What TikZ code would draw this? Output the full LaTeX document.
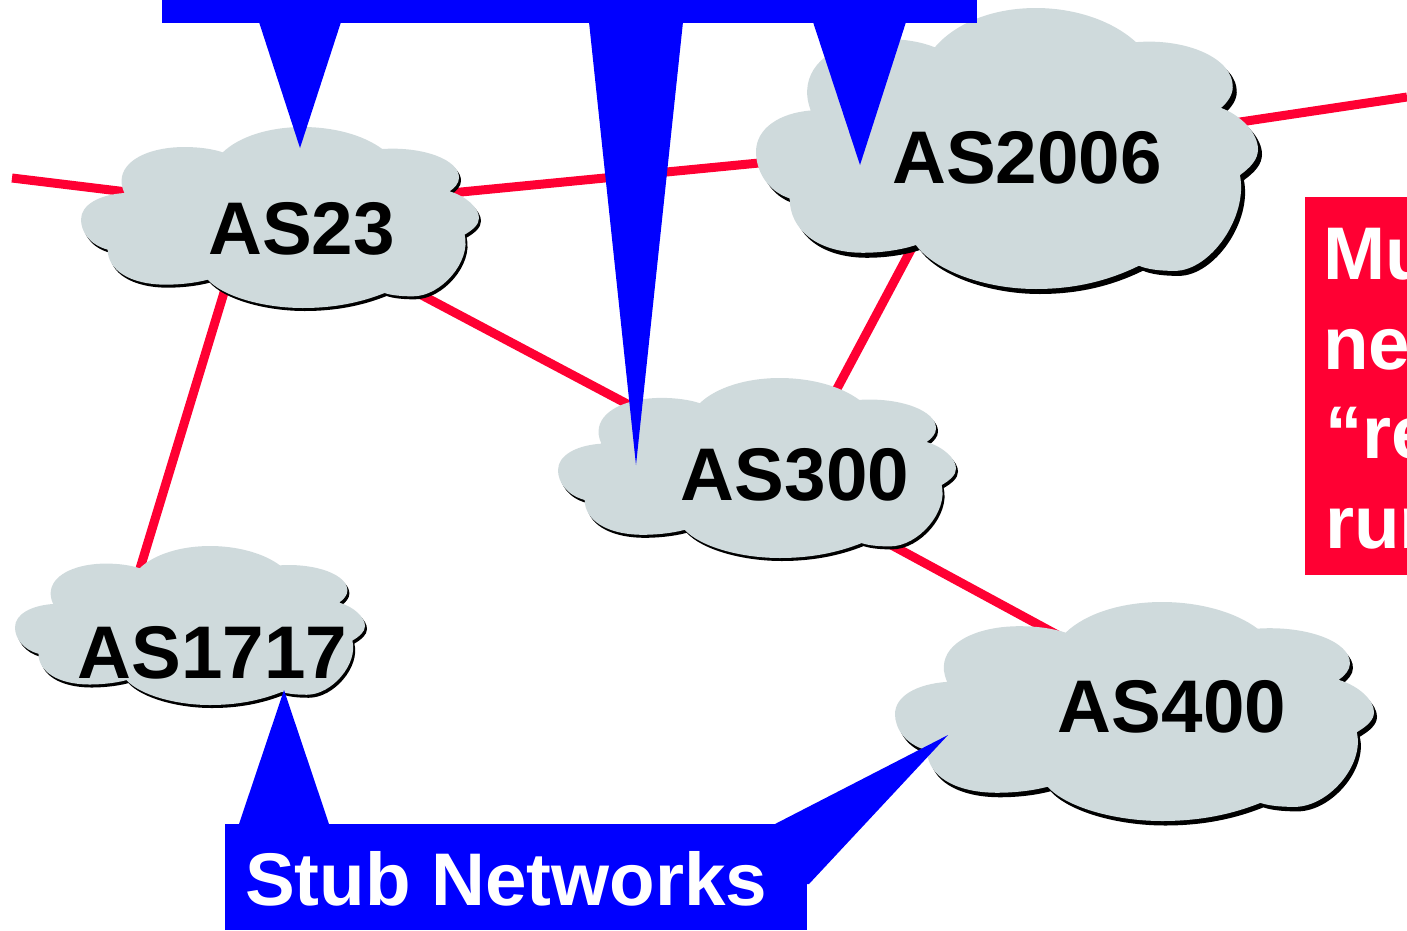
\documentclass[tikz,border=0pt]{standalone}
\usepackage{fontspec}
\setmainfont{Liberation Sans}
\definecolor{linkred}{HTML}{FF0033}
\definecolor{calloutblue}{HTML}{0000FF}
\definecolor{cloudgrey}{HTML}{CFDADC}
\newcommand{\cloudoutline}{(460,98) .. controls (510,50) and (600,22) .. (700,22)
  .. controls (790,22) and (880,45) .. (938,88)
  .. controls (1060,80) and (1170,120) .. (1168,175)
  .. controls (1168,190) and (1155,205) .. (1140,215)
  .. controls (1190,230) and (1228,265) .. (1228,295)
  .. controls (1228,315) and (1210,330) .. (1185,345)
  .. controls (1205,425) and (1115,530) .. (1030,530)
  .. controls (995,530) and (965,527) .. (945,520)
  .. controls (870,550) and (790,565) .. (700,565)
  .. controls (580,565) and (460,530) .. (415,480)
  .. controls (370,492) and (320,495) .. (290,495)
  .. controls (180,495) and (115,450) .. (115,390)
  .. controls (60,375) and (35,335) .. (35,300)
  .. controls (35,255) and (90,225) .. (165,220)
  .. controls (156,200) and (155,185) .. (158,170)
  .. controls (170,115) and (250,82) .. (345,82)
  .. controls (390,82) and (430,88) .. (460,98) -- cycle}
% xmin ymin xmax ymax shadowdx shadowdy
\newcommand{\drawcloud}[6]{%
  \pgfmathsetmacro{\cloudsx}{(#3-#1)/1193}%
  \pgfmathsetmacro{\cloudsy}{(#4-#2)/543}%
  \begin{scope}[shift={(#1+#5,#2+#6)},xscale=\cloudsx,yscale=\cloudsy,shift={(-35,-22)}]
    \fill[black] \cloudoutline;
  \end{scope}
  \begin{scope}[shift={(#1,#2)},xscale=\cloudsx,yscale=\cloudsy,shift={(-35,-22)}]
    \fill[cloudgrey] \cloudoutline;
  \end{scope}}
\tikzset{
  link/.style={draw=linkred,line width=9pt},
  label/.style={font=\bfseries\fontsize{74.6}{74.6}\selectfont,inner sep=0pt,anchor=base,text=black},
  whitetext/.style={font=\bfseries\fontsize{74.6}{74.6}\selectfont,inner sep=0pt,anchor=base west,text=white},
  callout/.style={fill=calloutblue},
  redpanel/.style={fill=linkred}
}
\begin{document}
\begin{tikzpicture}[x=1pt,y=-1pt]
\useasboundingbox (0,0) rectangle (1407,930);
% connector ends
\coordinate (leftfree) at (12,178);
\coordinate (rightfree) at (1407,97);
\coordinate (a23l) at (160,196);
\coordinate (a23r) at (420,196);
\coordinate (a2006l) at (800,159);
\coordinate (a2006r) at (1200,128);
\coordinate (a23b) at (240,240);
\coordinate (a1717t) at (135,585);
\coordinate (a23s) at (380,273);
\coordinate (a300n) at (665,424);
\coordinate (a2006b) at (930,214);
\coordinate (a300e) at (815,430);
\coordinate (a300s) at (860,528);
\coordinate (a400n) at (1100,658);
\draw[link] (leftfree) -- (a23l);
\draw[link] (a23r) -- (a2006l);
\draw[link] (a2006r) -- (rightfree);
\draw[link] (a23b) -- (a1717t);
\draw[link] (a23s) -- (a300n);
\draw[link] (a2006b) -- (a300e);
\draw[link] (a300s) -- (a400n);
% clouds
\drawcloud{81}{127}{479}{308}{2}{3}
\drawcloud{756}{8}{1258}{289}{4}{5}
\drawcloud{558}{378}{956}{558}{2}{3}
\drawcloud{15}{546}{365}{705}{2}{3}
\drawcloud{895}{602}{1374}{821}{3}{4.5}
\node[label] (as23) at (301.5,254.5) {AS23};
\node[label] (as2006) at (1027,183) {AS2006};
\node[label] (as300) at (795,500) {AS300};
\node[label] (as1717) at (212.5,678) {AS1717};
\node[label] (as400) at (1172,732) {AS400};
% top callout
\fill[callout] (162,0) rectangle (977,22.5);
\fill[callout] (259,22) -- (300,148) -- (341,22) -- cycle;
\fill[callout] (589,22) -- (636,465) -- (683,22) -- cycle;
\fill[callout] (813,22) -- (860,165) -- (906,22) -- cycle;
% bottom callout
\fill[callout] (225,824) rectangle (807,930);
\fill[callout] (239,824) -- (284,690) -- (329,824) -- cycle;
\fill[callout] (775,824) -- (948,735) -- (809,884) -- (775,884) -- cycle;
\node[whitetext] (stub) at (245,905.5) {Stub Networks};
% red panel
\fill[redpanel] (1305,197) rectangle (1407,575);
\begin{scope}
\clip (1305,197) rectangle (1407,575);
\node[whitetext] (r1) at (1323,279) {Mu};
\node[whitetext] (r2) at (1323,369) {ne};
\node[whitetext] (r3) at (1325,458) {“re};
\node[whitetext] (r4) at (1325,548) {rur};
\end{scope}
\end{tikzpicture}
\end{document}
